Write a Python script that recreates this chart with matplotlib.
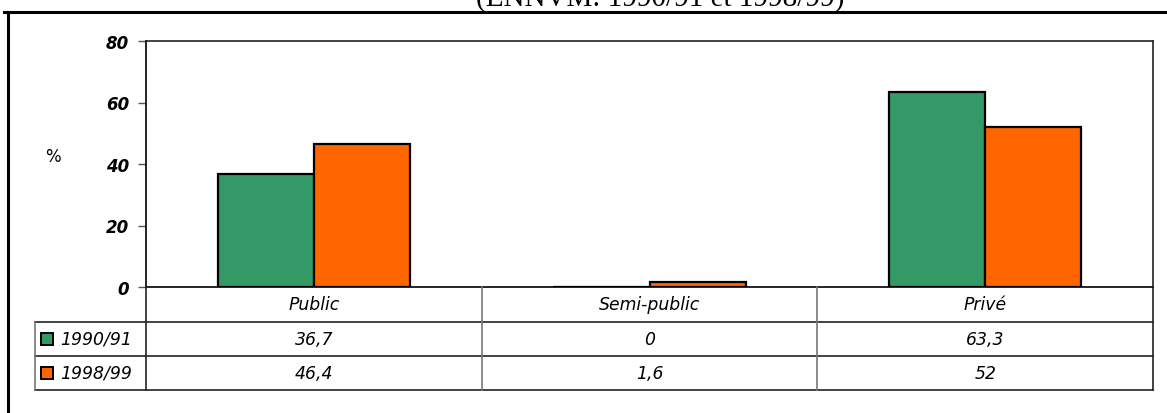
import matplotlib
matplotlib.use("Agg")
import matplotlib.pyplot as plt
from matplotlib.lines import Line2D
from matplotlib.patches import Rectangle
import matplotlib.transforms as mtransforms
import numpy as np

# Data
categories = ["Public", "Semi-public", "Privé"]
series_names = ["1990/91", "1998/99"]
values_1990 = [36.7, 0.0, 63.3]
values_1998 = [46.4, 1.6, 52.0]
value_labels_1990 = ["36,7", "0", "63,3"]
value_labels_1998 = ["46,4", "1,6", "52"]
y_ticks = [0, 20, 40, 60, 80]

colors = ["#339966", "#FF6600"]

W, H = 1167, 414
fig = plt.figure(figsize=(W / 100, H / 100), dpi=100)


def fx(px):
    return px / W


def fy(py):
    return 1 - py / H


# Plot area geometry (pixels)
left, right, top, bottom = 146, 1153, 42, 288
ax = fig.add_axes([fx(left), fy(bottom), fx(right - left), fy(top) - fy(bottom)])

x = np.arange(len(categories))
bw = 0.286
for i, (vals, col) in enumerate(zip([values_1990, values_1998], colors)):
    offs = (i - 0.5) * bw
    ax.bar(x + offs, vals, width=bw, color=col, edgecolor="black", linewidth=1.6,
           zorder=3)

ax.set_xlim(-0.5, len(categories) - 0.5)
ax.set_ylim(0, 80)
ax.set_yticks(y_ticks)
ax.set_yticklabels([str(t) for t in y_ticks], fontfamily="DejaVu Sans",
                   fontweight="bold", fontstyle="italic", fontsize=12)
ax.tick_params(axis="y", direction="out", length=6, width=1, pad=6,
               color="#555555")
ax.set_xticks([])
for s in ["left", "bottom"]:
    ax.spines[s].set_linewidth(1.2)
    ax.spines[s].set_color("black")
for s in ["top", "right"]:
    ax.spines[s].set_linewidth(1.2)
    ax.spines[s].set_color("#222222")

# "%" label
fig.text(fx(53), fy(157), "%", fontfamily="DejaVu Sans", fontsize=12,
         ha="center", va="center")

# Data table below the axis
row_top = [288, 323, 357]
row_bot = [323, 357, 391]
line_kw = dict(transform=fig.transFigure, color="#222222", linewidth=1.2)
grey_kw = dict(transform=fig.transFigure, color="#777777", linewidth=1.2)

# horizontal lines
for yy in [323, 357, 391]:
    fig.add_artist(Line2D([fx(35), fx(right)], [fy(yy), fy(yy)], **line_kw))
# vertical lines
fig.add_artist(Line2D([fx(35), fx(35)], [fy(323), fy(391)], **grey_kw))
fig.add_artist(Line2D([fx(left), fx(left)], [fy(288), fy(391)], **line_kw))
for c in range(1, len(categories)):
    xpix = left + (right - left) * c / len(categories)
    fig.add_artist(Line2D([fx(xpix), fx(xpix)], [fy(288), fy(391)], **grey_kw))
fig.add_artist(Line2D([fx(right), fx(right)], [fy(288), fy(391)], **line_kw))

trans = mtransforms.blended_transform_factory(ax.transData, fig.transFigure)
txt_kw = dict(fontfamily="DejaVu Sans", fontstyle="italic", fontsize=12.4,
              ha="center", va="center")
for i, cat in enumerate(categories):
    ax.text(x[i], fy((row_top[0] + row_bot[0]) / 2), cat, transform=trans,
            clip_on=False, **txt_kw)
    ax.text(x[i], fy((row_top[1] + row_bot[1]) / 2), value_labels_1990[i],
            transform=trans, clip_on=False, **txt_kw)
    ax.text(x[i], fy((row_top[2] + row_bot[2]) / 2), value_labels_1998[i],
            transform=trans, clip_on=False, **txt_kw)

# Series names with legend keys
for r, (name, col) in enumerate(zip(series_names, colors)):
    yc = (row_top[r + 1] + row_bot[r + 1]) / 2
    fig.add_artist(Rectangle((fx(41), fy(yc + 6)), fx(12), fy(yc - 6) - fy(yc + 6),
                             transform=fig.transFigure, facecolor=col,
                             edgecolor="black", linewidth=1.4))
    fig.text(fx(60), fy(yc), name, fontfamily="DejaVu Sans", fontstyle="italic",
             fontsize=12.4, ha="left", va="center")

# Outer chart border
border_kw = dict(transform=fig.transFigure, color="black", linewidth=2.2)
fig.add_artist(Line2D([fx(4), fx(1167)], [fy(13), fy(13)], **border_kw))
fig.add_artist(Line2D([fx(8), fx(8)], [fy(13), fy(420)], **border_kw))

# Title (upper part lies above the figure edge)
fig.text(fx(660), fy(6), "(ENNVM: 1990/91 et 1998/99)",
         fontfamily="Liberation Serif", fontsize=21, ha="center", va="baseline")

fig.savefig("out.png", dpi=100)
